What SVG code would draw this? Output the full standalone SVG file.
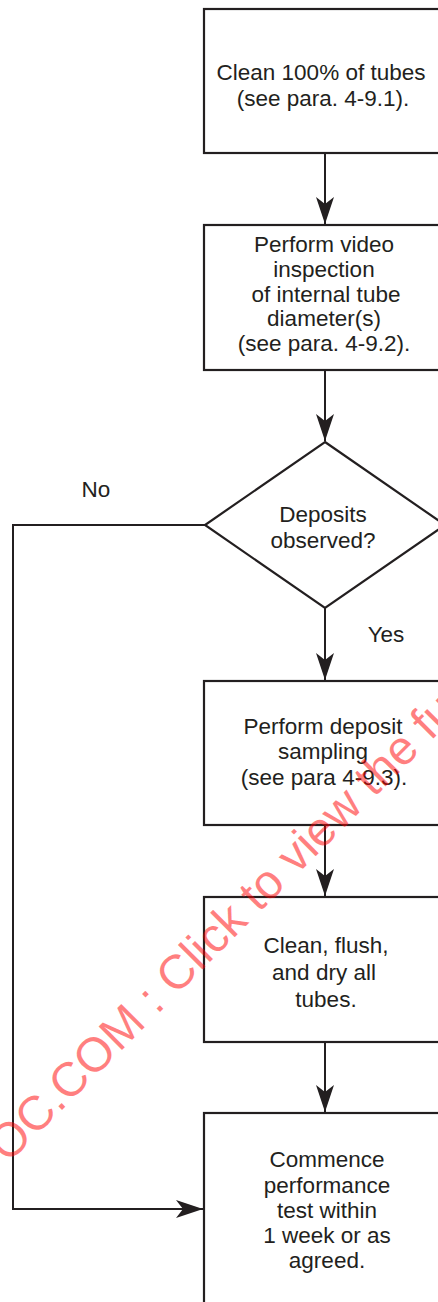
<svg xmlns="http://www.w3.org/2000/svg" width="438" height="1302" viewBox="0 0 438 1302">
<style>
.box{fill:#fff;stroke:#231f20;stroke-width:2.2}
.t{font-family:"Liberation Sans",Arial,sans-serif;font-size:22.5px;fill:#231f20;text-anchor:middle}
.c{fill:none;stroke:#231f20;stroke-width:2}
.wm{font-family:"Liberation Sans",Arial,sans-serif;font-size:48px;fill:#ff0000;fill-opacity:0.5}
</style>
<defs>
<marker id="ah" markerUnits="userSpaceOnUse" viewBox="-28 -10 30 20" refX="0" refY="0" markerWidth="30" markerHeight="20" orient="auto">
<path d="M0,0 L-27,-9 L-20,0 L-27,9 Z" fill="#231f20"/>
</marker>
</defs>
<rect width="438" height="1302" fill="#fff"/>
<g id="connectors">
<line class="c" x1="325" y1="153" x2="325" y2="224" marker-end="url(#ah)"/>
<line class="c" x1="325" y1="370" x2="325" y2="441" marker-end="url(#ah)"/>
<line class="c" x1="325" y1="608" x2="325" y2="680" marker-end="url(#ah)"/>
<line class="c" x1="325" y1="825" x2="325" y2="896" marker-end="url(#ah)"/>
<line class="c" x1="325" y1="1042" x2="325" y2="1112" marker-end="url(#ah)"/>
<path class="c" d="M205,525 H13 V1209 H203" marker-end="url(#ah)"/>
<text class="t" x="96" y="497">No</text>
<text class="t" x="386" y="642">Yes</text>
</g>
<g id="n1">
<rect class="box" x="204" y="9" width="250" height="144"/>
<text class="t" x="321" y="80">Clean 100% of tubes</text>
<text class="t" x="323" y="106">(see para. 4-9.1).</text>
</g>
<g id="n2">
<rect class="box" x="204" y="225" width="250" height="145"/>
<text class="t" x="324" y="252">Perform video</text>
<text class="t" x="324" y="277">inspection</text>
<text class="t" x="326" y="302">of internal tube</text>
<text class="t" x="324" y="326">diameter(s)</text>
<text class="t" x="324" y="351">(see para. 4-9.2).</text>
</g>
<g id="n3">
<polygon class="box" points="325,442 445,525 325,608 205,525"/>
<text class="t" x="323" y="522">Deposits</text>
<text class="t" x="323" y="548">observed?</text>
</g>
<g id="n4">
<rect class="box" x="204" y="681" width="250" height="144"/>
<text class="t" x="323" y="734">Perform deposit</text>
<text class="t" x="323" y="759">sampling</text>
<text class="t" x="324" y="785">(see para 4-9.3).</text>
</g>
<g id="n5">
<rect class="box" x="204" y="897" width="250" height="145"/>
<text class="t" x="326" y="953">Clean, flush,</text>
<text class="t" x="324" y="980">and dry all</text>
<text class="t" x="326" y="1007">tubes.</text>
</g>
<g id="n6">
<rect class="box" x="204" y="1113" width="250" height="210"/>
<text class="t" x="327" y="1167">Commence</text>
<text class="t" x="327" y="1193">performance</text>
<text class="t" x="327" y="1218">test within</text>
<text class="t" x="327" y="1243">1 week or as</text>
<text class="t" x="327" y="1268">agreed.</text>
</g>
<text class="wm" x="8" y="1164" transform="rotate(-45 8 1164)">OC.COM : Click to view the fu</text>
</svg>
